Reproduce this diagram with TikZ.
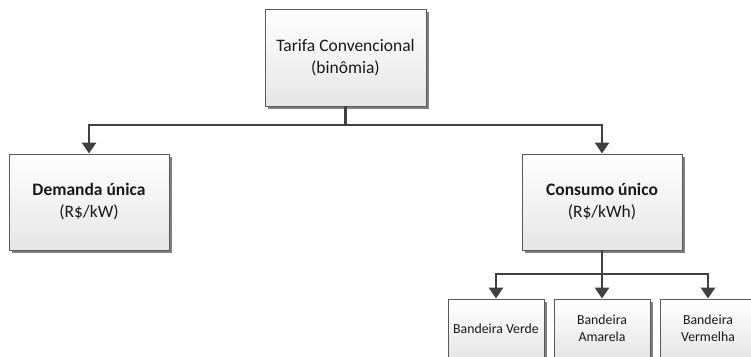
\documentclass[tikz,border=0pt]{standalone}
\usepackage{fontspec}
\setmainfont{Carlito}
\usetikzlibrary{shadows,arrows.meta}
\definecolor{edge}{HTML}{404040}
\definecolor{boxline}{HTML}{5A5A5A}
\tikzset{
  card/.style={draw=boxline, line width=0.9pt, top color=white, bottom color=black!10,
    drop shadow={shadow xshift=3pt, shadow yshift=-3pt, fill=black!50, opacity=1},
    align=center, inner sep=0pt, text=black!90},
  bigtext/.style={font=\fontsize{17.5}{22}\selectfont},
  smalltext/.style={font=\fontsize{13.8}{17}\selectfont},
  link/.style={draw=edge, line width=2.8pt},
  tip/.style={-{Triangle[length=11pt,width=14pt]}, link},
}
\begin{document}
\begin{tikzpicture}[x=1pt,y=-1pt]
\useasboundingbox (0,0) rectangle (751,356);
\clip (0,0) rectangle (751,356);
% top level
\node[card, bigtext, minimum width=161pt, minimum height=97pt]
  (tarifa) at (345.5,57.5) {Tarifa Convencional\\(binômia)};
% second level
\node[card, bigtext, minimum width=160pt, minimum height=96pt]
  (demanda) at (89,202) {\textbf{Demanda única}\\(R\$/kW)};
\node[card, bigtext, minimum width=160pt, minimum height=96pt]
  (consumo) at (602,202) {\textbf{Consumo único}\\(R\$/kWh)};
% third level
\node[card, smalltext, minimum width=96pt, minimum height=59pt]
  (verde) at (496,328.5) {Bandeira Verde};
\node[card, smalltext, minimum width=96pt, minimum height=59pt]
  (amarela) at (602,328.5) {Bandeira\\Amarela};
\node[card, smalltext, minimum width=96pt, minimum height=59pt]
  (vermelha) at (708,328.5) {Bandeira\\Vermelha};
% connectors
\coordinate (j1) at (345.5,125);
\coordinate (j2) at (602,274);
\draw[link] (tarifa.south) -- (j1);
\draw[tip] (j1) -| (demanda.north);
\draw[tip] (j1) -| (consumo.north);
\draw[link] (consumo.south) -- (j2);
\draw[tip] (j2) -| (verde.north);
\draw[tip] (j2) -- (amarela.north);
\draw[tip] (j2) -| (vermelha.north);
\end{tikzpicture}
\end{document}
